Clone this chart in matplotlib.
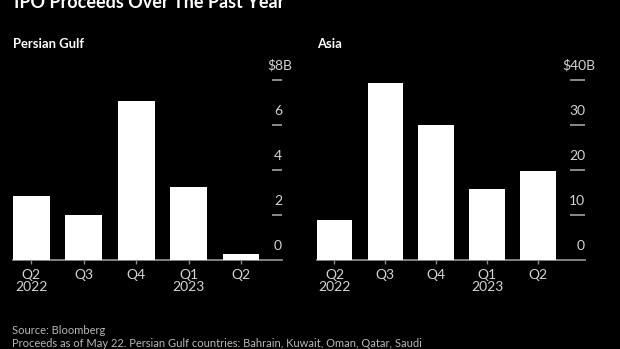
import matplotlib.pyplot as plt
import numpy as np

plt.rcParams['font.family'] = ['Lato', 'DejaVu Sans']

quarters = ["Q2\n2022", "Q3", "Q4", "Q1\n2023", "Q2"]
gulf_proceeds = [2.85, 2.0, 7.08, 3.25, 0.25]
asia_proceeds = [8.9, 39.4, 30.0, 15.8, 19.8]

gulf_ticks = [0, 2, 4, 6, 8]
gulf_labels = ["0", "2", "4", "6", "$8B"]
asia_ticks = [0, 10, 20, 30, 40]
asia_labels = ["0", "10", "20", "30", "$40B"]

BG = "black"
TXT = "#d4d4d4"
AXC = "#8c8c8c"


def draw_panel(ax, values, ticks, labels, xmax, tick_len, title):
    x = np.arange(len(values))
    ax.set_facecolor(BG)
    ax.bar(x, values, width=0.7, color="white", zorder=3)
    ax.set_xlim(-0.35, xmax)
    ax.set_ylim(ticks[0], ticks[-1])
    for s in ["top", "left", "right"]:
        ax.spines[s].set_visible(False)
    ax.spines["bottom"].set_color(AXC)
    ax.spines["bottom"].set_linewidth(1.3)
    ax.set_xticks(x, labels=quarters)
    ax.tick_params(axis="x", colors=AXC, length=3, width=1, pad=3.5,
                   labelcolor=TXT, labelsize=10)
    for lbl in ax.get_xticklabels():
        lbl.set_linespacing(0.95)
    ax.yaxis.tick_right()
    ax.set_yticks(ticks[1:])
    ax.tick_params(axis="y", direction="in", length=tick_len * 0.72,
                   width=1.1, colors="#b0b0b0", labelright=False)
    for t, l in zip(ticks, labels):
        dx = 7.5 if l.startswith("$") else 0
        ax.annotate(l, xy=(1, t), xycoords=("axes fraction", "data"),
                    xytext=(dx, 6), textcoords="offset points",
                    ha="right", va="bottom", color=TXT, fontsize=10)
    ax.text(0, 1.178, title, transform=ax.transAxes, color="white",
            fontsize=9.4, fontweight="bold", ha="left", va="baseline")


fig = plt.figure(figsize=(6.2, 3.49), dpi=100, facecolor=BG)
bottom = (349 - 260) / 349
height = 180 / 349
ax1 = fig.add_axes([13 / 620, bottom, (282 - 13) / 620, height])
ax2 = fig.add_axes([316.7 / 620, bottom, (585 - 316.7) / 620, height])

draw_panel(ax1, gulf_proceeds, gulf_ticks, gulf_labels, 4.78, 10, "Persian Gulf")
draw_panel(ax2, asia_proceeds, asia_ticks, asia_labels, 4.93, 15, "Asia")

fig.text(14 / 620, (349 - 8) / 349, "IPO Proceeds Over The Past Year",
         color="white", fontsize=13, fontweight="bold", ha="left", va="baseline")
fig.text(12 / 620, (349 - 334) / 349, "Source: Bloomberg",
         color="#b8b8b8", fontsize=8.0, ha="left", va="baseline")
fig.text(12 / 620, (349 - 347) / 349,
         "Proceeds as of May 22. Persian Gulf countries: Bahrain, Kuwait, Oman, Qatar, Saudi",
         color="#b8b8b8", fontsize=8.0, ha="left", va="baseline")

fig.savefig("out.png", dpi=100, facecolor=BG)
